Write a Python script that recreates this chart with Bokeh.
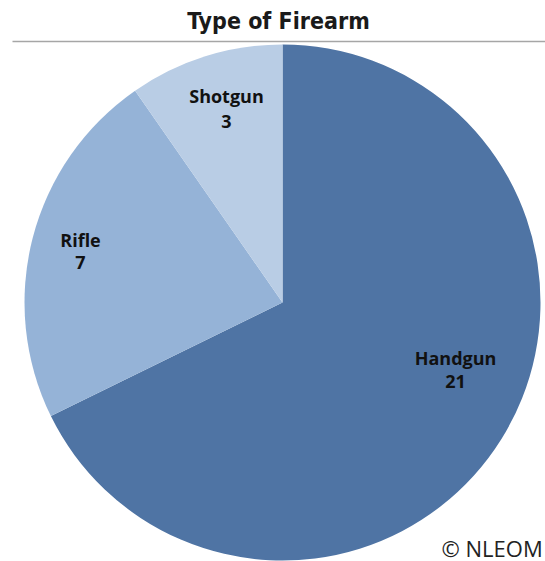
import math
from bokeh.plotting import figure
from bokeh.models import Range1d, ColumnDataSource
from bokeh.core.properties import value
from bokeh.embed import file_html
from bokeh.resources import INLINE

# ---- data ----
categories = ["Handgun", "Rifle", "Shotgun"]
counts = [21, 7, 3]
colors = ["#4F74A4", "#95B3D7", "#B9CDE5"]
title_text = "Type of Firearm"
credit_text = "\u00a9 NLEOM"

# ---- layout (page pixel coords) ----
W, H = 545, 561
def py(y):
    return H - y

cx, cy, R = 282, 302, 258
label_pos = [(455, 357, 381), (80, 239, 262), (226, 95, 121)]

p = figure(width=W, height=H, output_backend="svg", toolbar_location=None,
           x_range=Range1d(0, W), y_range=Range1d(0, H),
           min_border=0, outline_line_color=None)
p.axis.visible = False
p.grid.visible = False
p.background_fill_color = "white"
p.border_fill_color = "white"

total = sum(counts)
starts, ends = [], []
ang = math.pi / 2
for c in counts:
    span = 2 * math.pi * c / total
    starts.append(ang - span)
    ends.append(ang)
    ang -= span

src = ColumnDataSource(dict(x=[cx] * len(counts), y=[py(cy)] * len(counts),
                            start=starts, end=ends, color=colors))
p.wedge(x="x", y="y", radius=R, start_angle="start", end_angle="end",
        fill_color="color", line_color=None, source=src)

# labels
lsrc = ColumnDataSource(dict(
    x=[lp[0] for lp in label_pos],
    yn=[py(lp[1]) for lp in label_pos],
    yv=[py(lp[2]) for lp in label_pos],
    name=categories,
    val=[str(c) for c in counts]))
for col, ycol in (("name", "yn"), ("val", "yv")):
    p.text(x="x", y=ycol, text=col, source=lsrc, text_align="center",
           text_baseline="middle", text_font=value("Open Sans"),
           text_font_style="bold", text_font_size="18px", text_color="#111111")

# title
p.text(x=[278], y=[py(20)], text=[title_text], text_align="center",
       text_baseline="middle",
       text_font=value("DejaVu Sans Condensed"),
       text_font_style="bold", text_font_size="23px", text_color="#1a1a1a")
p.segment(x0=[12], y0=[py(41)], x1=[W], y1=[py(41)], line_color="#A6A6A6",
          line_width=1.5)

# credit
p.text(x=[441], y=[py(547)], text=[credit_text], text_align="left",
       text_baseline="middle", text_font=value("Open Sans"),
       text_font_size="22px", text_color="#222222")

open("out.html", "w").write(file_html(p, INLINE))
